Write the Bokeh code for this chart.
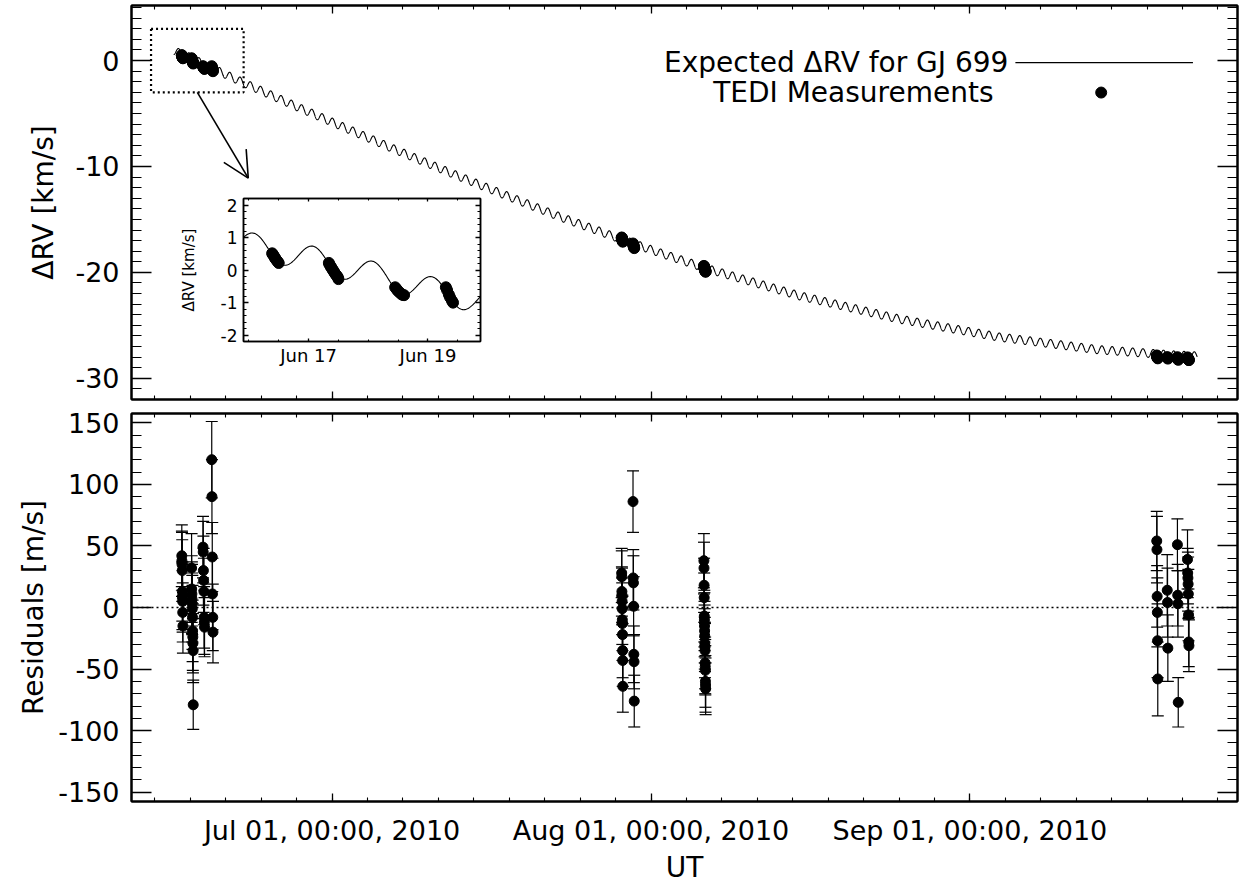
import numpy as np
from bokeh.plotting import figure
from bokeh.models import (Range1d, LinearAxis, FixedTicker, Span, Whisker, TeeHead,
                          ColumnDataSource, Label, Arrow, OpenHead, BoxAnnotation)
from bokeh.layouts import column
from bokeh.embed import file_html
from bokeh.resources import INLINE

# ---------------- data (time = days since 2010-07-01 00:00 UT) ----------------
x_tick_values = [0, 31, 62]
x_tick_labels = ["Jul 01, 00:00, 2010", "Aug 01, 00:00, 2010", "Sep 01, 00:00, 2010"]
inset_tick_values = [-14, -12]
inset_tick_labels = ["Jun 17", "Jun 19"]
ytop_tick_values = [-30, -20, -10, 0]
ytop_tick_labels = ["-30", "-20", "-10", "0"]
ybot_tick_values = [-150, -100, -50, 0, 50, 100, 150]
ybot_tick_labels = ["-150", "-100", "-50", "0", "50", "100", "150"]
yin_tick_values = [-2, -1, 0, 1, 2]
yin_tick_labels = ["-2", "-1", "0", "1", "2"]

# expected dRV: slow (barycentric) trend [km/s]
trend_t = [-15.5, -14.94, -13.92, -12.95, -11.95, -8.6, -3.1, 2.1, 6.6, 11.5, 16.3,
           22.0, 28.2, 32.0, 36.3, 45.4, 55.1, 64.8, 74.5, 81.8, 84.2]
trend_v = [1.0, 0.75, 0.34, -0.11, -0.59, -2.1, -4.5, -6.7, -8.6, -10.6, -12.5,
           -14.7, -16.9, -18.2, -19.6, -22.2, -24.4, -26.1, -27.3, -27.8, -27.9]
# diurnal term
diurnal_amp = 0.39        # km/s
diurnal_period = 0.99727  # days
diurnal_peak = -14.92     # days
curve_start, curve_end = -15.4, 84.1

# TEDI measurements per night: time [d], residual [m/s], error [m/s]
jun16_t = [-14.61, -14.60, -14.59, -14.57, -14.56, -14.55, -14.53, -14.52, -14.50]
jun16_res = [42, 38, 35, 30, 13, 9, 5, -4, -15]
jun16_err = [25, 24, 26, 25, 24, 27, 25, 24, 22]

jun17_t = [-13.66, -13.65, -13.63, -13.62, -13.60, -13.59, -13.57, -13.56, -13.54, -13.53, -13.51, -13.50]
jun17_res = [32, 15, 11, 7, 3, -1, -8, -19, -24, -29, -35, -79]
jun17_err = [28, 27, 26, 28, 25, 27, 26, 25, 27, 24, 26, 20]

jun18_t = [-12.55, -12.53, -12.51, -12.49, -12.46, -12.44, -12.42, -12.40]
jun18_res = [49, 45, 30, 22, 13, -8, -12, -16]
jun18_err = [25, 25, 28, 26, 27, 25, 26, 24]

jun19_t = [-11.70, -11.68, -11.65, -11.63, -11.60, -11.58]
jun19_res = [120, 90, 41, 11, -8, -20]
jun19_err = [31, 30, 28, 29, 27, 25]

jul29_t = [28.15, 28.16, 28.17, 28.18, 28.19, 28.20, 28.21, 28.22, 28.23, 28.24, 28.25, 28.26]
jul29_res = [28, 25, 13, 10, 5, -1, -10, -13, -22, -35, -43, -64]
jul29_err = [20, 21, 20, 22, 19, 21, 20, 22, 21, 22, 21, 21]

jul30_t = [29.25, 29.27, 29.29, 29.31, 29.33, 29.35, 29.37]
jul30_res = [86, 24, 20, 1, -38, -44, -76]
jul30_err = [25, 23, 22, 24, 23, 22, 21]

aug06_t = [36.14, 36.15, 36.16, 36.17, 36.18, 36.19, 36.20, 36.21, 36.22,
           36.23, 36.24, 36.25, 36.26, 36.27, 36.28, 36.29, 36.30, 36.31]
aug06_res = [38, 32, 18, 8, -7, -10, -15, -19, -23, -29, -32, -35, -45, -48, -51, -60, -63, -66]
aug06_err = [22, 21, 22, 20, 21, 22, 20, 21, 22, 21, 20, 22, 21, 22, 20, 21, 22, 21]

sep19_t = [80.16, 80.18, 80.20, 80.22, 80.24, 80.26]
sep19_res = [54, 47, 9, -4, -27, -58]
sep19_err = [24, 27, 25, 28, 30, 30]

sep20_t = [81.18, 81.21, 81.24]
sep20_res = [14, 4, -33]
sep20_err = [29, 28, 27]

sep21_t = [82.17, 82.20, 82.22, 82.25]
sep21_res = [51, 10, 3, -77]
sep21_err = [21, 25, 27, 20]

sep22_t = [83.15, 83.17, 83.19, 83.21, 83.23, 83.25, 83.27, 83.29]
sep22_res = [39, 28, 24, 19, 11, -6, -28, -31]
sep22_err = [24, 20, 21, 22, 20, 21, 20, 21]

# ---------------- assemble ----------------
t_all = np.array(jun16_t + jun17_t + jun18_t + jun19_t + jul29_t + jul30_t + aug06_t
                 + sep19_t + sep20_t + sep21_t + sep22_t)
res_all = np.array(jun16_res + jun17_res + jun18_res + jun19_res + jul29_res + jul30_res
                   + aug06_res + sep19_res + sep20_res + sep21_res + sep22_res, dtype=float)
err_all = np.array(jun16_err + jun17_err + jun18_err + jun19_err + jul29_err + jul30_err
                   + aug06_err + sep19_err + sep20_err + sep21_err + sep22_err, dtype=float)


def expected(t):
    t = np.asarray(t, dtype=float)
    return (np.interp(t, trend_t, trend_v)
            + diurnal_amp * np.cos(2 * np.pi * (t - diurnal_peak) / diurnal_period))


curve_t = np.arange(curve_start, curve_end, 0.01)
curve_v = expected(curve_t)
meas_v = expected(t_all) + res_all / 1000.0

FONT = "DejaVu Sans"
TICK_FS = "27px"
TITLE_FS = "28px"

X_LO, X_HI = -19.50, 88.01
x_minor = list(np.round(np.arange(-17.222, 88, 31 / 9), 3))


def axis(ticks, minor, maj_len, min_len, show=False, fs=TICK_FS, standoff=12,
         overrides=None, label=None, label_fs=TITLE_FS, label_standoff=0, lw=2):
    ax = LinearAxis(ticker=FixedTicker(ticks=ticks, minor_ticks=minor))
    ax.axis_line_color = "black"
    ax.axis_line_width = lw
    ax.major_tick_in = maj_len
    ax.major_tick_out = 0
    ax.minor_tick_in = min_len
    ax.minor_tick_out = 0
    ax.major_tick_line_color = "black"
    ax.major_tick_line_width = 1.3
    ax.minor_tick_line_color = "black"
    ax.minor_tick_line_width = 1.1
    if show:
        ax.major_label_text_font = FONT
        ax.major_label_text_font_size = fs
        ax.major_label_text_color = "black"
        ax.major_label_standoff = standoff
        if overrides:
            ax.major_label_overrides = overrides
    else:
        ax.major_label_text_font_size = "0px"
        ax.major_label_text_color = None
        ax.major_label_standoff = 0
    if label:
        ax.axis_label = label
        ax.axis_label_text_font = FONT
        ax.axis_label_text_font_size = label_fs
        ax.axis_label_text_font_style = "normal"
        ax.axis_label_text_color = "black"
        ax.axis_label_standoff = label_standoff
    return ax


def base_fig(w, h, xr, yr, bl, br, bt, bb):
    p = figure(width=w, height=h, x_range=Range1d(*xr), y_range=Range1d(*yr),
               output_backend="svg", toolbar_location=None,
               x_axis_location=None, y_axis_location=None,
               min_border_left=bl, min_border_right=br, min_border_top=bt, min_border_bottom=bb)
    p.grid.grid_line_color = None
    p.outline_line_color = "black"
    p.outline_line_width = 2
    p.background_fill_color = "white"
    p.border_fill_color = "white"
    return p


x_over = dict(zip(x_tick_values, x_tick_labels))
ytop_over = dict(zip(ytop_tick_values, ytop_tick_labels))
ybot_over = dict(zip(ybot_tick_values, ybot_tick_labels))
yin_over = dict(zip(yin_tick_values, yin_tick_labels))
in_over = dict(zip(inset_tick_values, inset_tick_labels))

# ---------------- top panel ----------------
top = base_fig(1243, 406, (X_LO, X_HI), (-32.0, 5.2), 131, 4, 5, 7)
ytop_minor = list(range(-32, 6))
top.add_layout(axis(x_tick_values, x_minor, 8, 4), "below")
top.add_layout(axis(x_tick_values, x_minor, 8, 4), "above")
top.add_layout(axis(ytop_tick_values, ytop_minor, 20, 10, show=True, overrides=ytop_over,
                    label="\u0394RV [km/s]", label_standoff=12), "left")
top.add_layout(axis(ytop_tick_values, ytop_minor, 20, 10), "right")

top.line(curve_t, curve_v, line_color="black", line_width=1.1)
top.scatter(t_all, meas_v, size=11, fill_color="black", line_color="black")

# zoom box + arrow
top.add_layout(BoxAnnotation(left=-17.6, right=-8.6, bottom=-3.0, top=3.0, fill_alpha=0,
                             line_color="black", line_alpha=1.0, line_dash="2 3", line_width=2.2))
top.add_layout(Arrow(end=OpenHead(size=26, line_width=1.6, line_color="black"),
                     x_start=-13.1, y_start=-3.0, x_end=-8.15, y_end=-11.1,
                     line_width=1.6, line_color="black"))

# legend (label left, symbol right)
top.add_layout(Label(x=65.74, y=-0.19, text="Expected \u0394RV for GJ 699", text_align="right",
                     text_baseline="middle", text_font=FONT, text_font_size=TITLE_FS,
                     text_color="black"))
top.add_layout(Label(x=64.29, y=-3.02, text="TEDI Measurements", text_align="right",
                     text_baseline="middle", text_font=FONT, text_font_size=TITLE_FS,
                     text_color="black"))
top.segment(x0=[66.42], y0=[-0.19], x1=[83.68], y1=[-0.19], line_color="black", line_width=1.1)
top.scatter([74.76], [-3.02], size=11, fill_color="black", line_color="black")

# ---------------- bottom panel ----------------
bot = base_fig(1243, 480, (X_LO, X_HI), (-157.5, 157.5), 131, 4, 7, 80)
ybot_minor = list(range(-150, 151, 10))
bot.add_layout(axis(x_tick_values, x_minor, 8, 4, show=True, standoff=13, overrides=x_over,
                    label="UT", label_standoff=2), "below")
bot.add_layout(axis(x_tick_values, x_minor, 8, 4), "above")
bot.add_layout(axis(ybot_tick_values, ybot_minor, 20, 10, show=True, overrides=ybot_over,
                    label="Residuals [m/s]", label_standoff=5), "left")
bot.add_layout(axis(ybot_tick_values, ybot_minor, 20, 10), "right")

bot.add_layout(Span(location=0, dimension="width", line_color="black", line_dash="2 3",
                    line_width=1.5))
src = ColumnDataSource(dict(t=t_all, res=res_all, up=res_all + err_all, lo=res_all - err_all))
bot.add_layout(Whisker(base="t", upper="up", lower="lo", source=src, dimension="height",
                       line_color="black", line_width=1.2,
                       upper_head=TeeHead(size=12, line_color="black", line_width=1.2),
                       lower_head=TeeHead(size=12, line_color="black", line_width=1.2)))
bot.scatter("t", "res", source=src, size=10, fill_color="black", line_color="black")

# ---------------- inset ----------------
IN_BL = 120
inset = base_fig(IN_BL + 248 + 6, 179, (-15.09, -11.12), (-2.2, 2.2), IN_BL, 6, 8, 28)
inset.styles = {"position": "absolute", "left": f"{232 - IN_BL}px", "top": "190px"}
inset.border_fill_alpha = 0
inset.outline_line_width = 1.5
in_xminor = list(np.arange(-15.0, -11.0, 0.5))
in_yminor = list(np.round(np.arange(-2.2, 2.21, 0.2), 2))
inset.add_layout(axis(inset_tick_values, in_xminor, 3, 2, show=True, fs="18px", standoff=3,
                      overrides=in_over, lw=1.5), "below")
inset.add_layout(axis(inset_tick_values, in_xminor, 3, 2, lw=1.5), "above")
inset.add_layout(axis(yin_tick_values, in_yminor, 5, 3, show=True, fs="17px", standoff=6,
                      overrides=yin_over, label="\u0394RV [km/s]", label_fs="15px",
                      label_standoff=20, lw=1.5), "left")
inset.add_layout(axis(yin_tick_values, in_yminor, 5, 3, lw=1.5), "right")
m = (curve_t >= -15.1) & (curve_t <= -11.1)
inset.line(curve_t[m], curve_v[m], line_color="black", line_width=1.1)
mj = t_all < 0
inset.scatter(t_all[mj], meas_v[mj], size=11, fill_color="black", line_color="black")

layout = column(top, bot, inset)
open("out.html", "w").write(file_html(layout, INLINE))
